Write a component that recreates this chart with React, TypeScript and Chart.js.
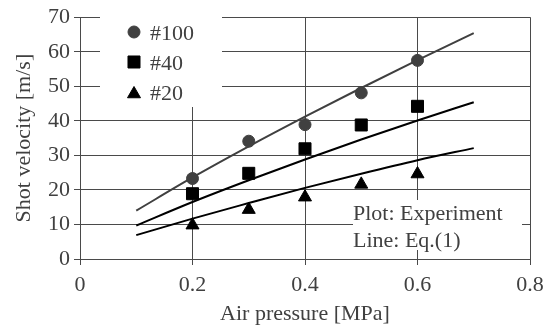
import React, { useEffect, useRef } from "react";
import { Chart, registerables } from "chart.js";
import { drawPoint } from "chart.js/helpers";

Chart.register(...registerables);

const pressureExp = [0.2, 0.3, 0.4, 0.5, 0.6];
const exp100 = [23.3, 34.1, 38.9, 48.1, 57.5];
const exp40 = [18.9, 24.8, 31.9, 38.8, 44.2];
const exp20 = [9.8, 14.3, 17.9, 21.6, 24.6];

const pressureEq = [0.1, 0.2, 0.3, 0.4, 0.5, 0.6, 0.7];
const eq100 = [14.0, 23.6, 32.6, 41.2, 49.5, 57.6, 65.4];
const eq40 = [9.7, 16.5, 22.8, 28.8, 34.6, 40.1, 45.4];
const eq20 = [6.9, 11.7, 16.2, 20.6, 24.7, 28.6, 32.1];

const seriesLabels = ["#100", "#40", "#20"];
const noteLines = ["Plot: Experiment", "Line: Eq.(1)"];
const xTitle = "Air pressure [MPa]";
const yTitle = "Shot velocity [m/s]";

const FONT = "'Liberation Serif', 'Times New Roman', serif";
const FS = 22;
const TEXT = "#404040";
const GRID = "#4a4a4a";

const toXY = (xs: number[], ys: number[]) => xs.map((x, i) => ({ x, y: ys[i] }));

const markerStyles = [
  { pointStyle: "circle", radius: 6, color: "#404040" },
  { pointStyle: "rect", radius: 8.5, color: "#000000" },
  { pointStyle: "triangle", radius: 7.5, color: "#000000" },
];

const boxesPlugin = {
  id: "boxes",
  beforeDatasetsDraw(chart: any) {
    const ctx = chart.ctx;
    ctx.save();
    ctx.fillStyle = "#ffffff";
    ctx.fillRect(100, 17, 122, 90);
    ctx.fillRect(353, 200, 169, 50);
    ctx.font = `${FS}px ${FONT}`;
    ctx.textBaseline = "alphabetic";
    ctx.textAlign = "left";
    seriesLabels.forEach((label, i) => {
      const m = markerStyles[i];
      const cy = 32 + i * 30 + (m.pointStyle === "triangle" ? 2 : 0);
      ctx.fillStyle = m.color;
      ctx.strokeStyle = m.color;
      ctx.lineWidth = 1;
      drawPoint(ctx, { pointStyle: m.pointStyle, radius: m.radius, rotation: 0, borderWidth: 1 } as any, 134, cy);
      ctx.fillStyle = TEXT;
      ctx.fillText(label, 150, 39.5 + i * 30);
    });
    ctx.fillStyle = TEXT;
    noteLines.forEach((t, i) => ctx.fillText(t, 353, 220 + i * 27));
    ctx.restore();
  },
};

export default function App() {
  const ref = useRef<HTMLCanvasElement>(null);
  useEffect(() => {
    if (!ref.current) return;
    const expSets = [exp100, exp40, exp20].map((ys, i) => ({
      type: "scatter" as const,
      label: seriesLabels[i],
      data: toXY(pressureExp, ys),
      showLine: false,
      pointStyle: markerStyles[i].pointStyle,
      pointRadius: markerStyles[i].radius,
      pointBackgroundColor: markerStyles[i].color,
      pointBorderColor: markerStyles[i].color,
      pointBorderWidth: 1,
      order: 0,
    }));
    const lineColors = ["#404040", "#000000", "#000000"];
    const lineSets = [eq100, eq40, eq20].map((ys, i) => ({
      type: "line" as const,
      label: seriesLabels[i] + " Eq.(1)",
      data: toXY(pressureEq, ys),
      borderColor: lineColors[i],
      borderWidth: 2,
      pointRadius: 0,
      fill: false,
      cubicInterpolationMode: "monotone" as const,
      order: 1,
    }));
    const chart = new Chart(ref.current, {
      type: "scatter",
      data: { datasets: [...lineSets, ...expSets] as any },
      options: {
        animation: false,
        responsive: true,
        maintainAspectRatio: false,
        layout: { padding: { top: 14, right: 24, bottom: 0, left: 0 } },
        plugins: { legend: { display: false }, tooltip: { enabled: false } },
        scales: {
          x: {
            type: "linear",
            min: 0,
            max: 0.8,
            ticks: { stepSize: 0.2, color: TEXT, font: { family: FONT, size: FS }, padding: 7 },
            grid: { color: GRID, lineWidth: 1, tickLength: 6, drawTicks: true },
            border: { color: GRID, width: 1 },
            title: { display: true, text: xTitle, color: TEXT, font: { family: FONT, size: FS }, padding: { top: 0, bottom: 4 } },
            afterFit: (s: any) => { s.height = 72; },
          },
          y: {
            type: "linear",
            min: 0,
            max: 70,
            ticks: { stepSize: 10, color: TEXT, font: { family: FONT, size: FS }, padding: 4 },
            grid: { color: GRID, lineWidth: 1, tickLength: 6, drawTicks: true },
            border: { color: GRID, width: 1 },
            title: { display: true, text: yTitle, color: TEXT, font: { family: FONT, size: FS }, padding: { top: 11, bottom: 0 } },
            afterFit: (s: any) => { s.width = 80; },
          },
        },
      },
      plugins: [boxesPlugin],
    });
    return () => chart.destroy();
  }, []);
  return (
    <div style={{ position: "fixed", left: 0, top: 0, width: 554, height: 331, background: "#fff" }}>
      <canvas ref={ref} />
    </div>
  );
}
